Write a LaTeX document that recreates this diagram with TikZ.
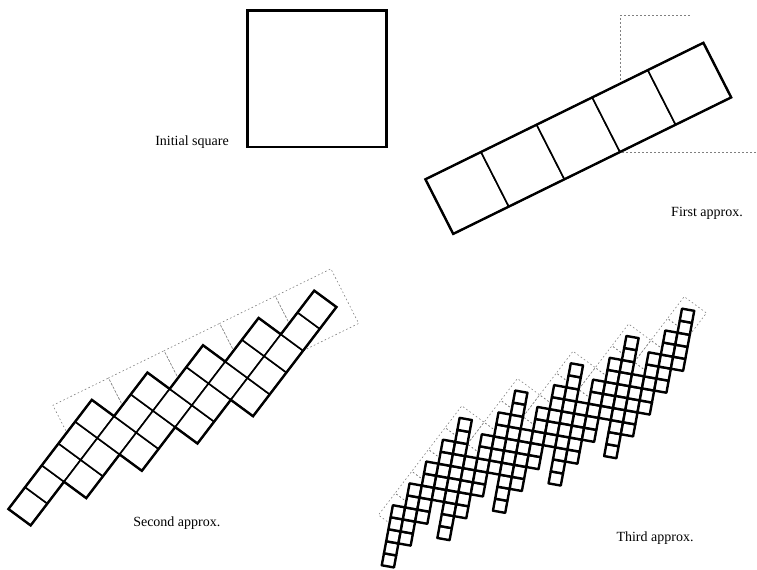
\documentclass[tikz,border=0pt]{standalone}
\usepackage{fontspec}
\setmainfont{Liberation Serif}
\colorlet{guidegray}{black!50}
\tikzset{
  sqr/.style={line width=1.2pt, fill=white, line join=round},
  rim/.style={line width=1.8pt, line join=miter},
  guide/.style={draw=guidegray, line width=0.45pt, dash pattern=on 1.2pt off 1.8pt},
  caption/.style={font=\fontsize{10.5}{12}\selectfont, inner sep=0pt}
}
\begin{document}
\begin{tikzpicture}[x=0.75pt,y=0.75pt]
  \useasboundingbox (0,0) rectangle (757,569);

  % initial square
  \begin{scope}[shift={(247.5,422)},xscale=139,yscale=136.5]
    \draw[sqr,rim] (0,0) rectangle (1,1);
  \end{scope}
  \node[caption,anchor=base east] (initlabel) at (229,423) {Initial square};

  % first approx: 5 squares of side 1/sqrt5
  \begin{scope}[shift={(620,417)},xscale=139,yscale=136.5]
    \draw[guide] (0.5,1) -- (0,1) -- (0,0) -- (1,0);
    \foreach \k in {-3,...,1}
      \draw[sqr] ({0.4*\k},{0.2*\k}) -- ++(0.4,0.2) -- ++(-0.2,0.4) -- ++(-0.4,-0.2) -- cycle;
    \draw[rim] (-1.2,-0.6) -- (0.8,0.4) -- (0.6,0.8) -- (-1.4,-0.2) -- cycle;
  \end{scope}
  \node[caption,anchor=base] (firstlabel) at (707,353) {First approx.};

  % second approx
  \begin{scope}[shift={(247.5,191)},xscale=139,yscale=136.5]
    \foreach \k in {-3,...,1}
      \draw[guide] ({0.4*\k},{0.2*\k}) -- ++(0.4,0.2) -- ++(-0.2,0.4) -- ++(-0.4,-0.2) -- cycle;
    \foreach \k in {-3,...,1}
      \foreach \j in {-3,...,1}
        \draw[sqr] ({0.4*\k+0.12*\j},{0.2*\k+0.16*\j}) -- ++(0.12,0.16) -- ++(-0.16,0.12) -- ++(-0.12,-0.16) -- cycle;
    % staircase rim, in units of the small squares
    \begin{scope}[shift={(-1.2,-0.6)},rotate=53.13,scale=0.2]
      \draw[rim] (-3,0) -- (-3,1) -- (2,1) -- (2,0) -- (4,0) -- (4,-1) -- (6,-1) -- (6,-2)
        -- (8,-2) -- (8,-3) -- (10,-3) -- (10,-4) -- (5,-4) -- (5,-3) -- (3,-3) -- (3,-2)
        -- (1,-2) -- (1,-1) -- (-1,-1) -- (-1,0) -- cycle;
    \end{scope}
  \end{scope}
  \node[caption,anchor=base west] (secondlabel) at (133,43) {Second approx.};

  % third approx
  \begin{scope}[shift={(617.5,185)},xscale=139,yscale=136.5]
    \foreach \k in {-3,...,1}
      \foreach \j in {-3,...,1}
        \draw[guide] ({0.4*\k+0.12*\j},{0.2*\k+0.16*\j}) -- ++(0.12,0.16) -- ++(-0.16,0.12) -- ++(-0.12,-0.16) -- cycle;
    \foreach \k in {-3,...,1}
      \foreach \j in {-3,...,1}
        \foreach \i in {-3,...,1}
          \draw[sqr,line width=1.8pt] ({0.4*\k+0.12*\j+0.016*\i},{0.2*\k+0.16*\j+0.088*\i}) -- ++(0.016,0.088) -- ++(-0.088,0.016) -- ++(-0.016,-0.088) -- cycle;
  \end{scope}
  \node[caption,anchor=base] (thirdlabel) at (655,28) {Third approx.};

\end{tikzpicture}
\end{document}
